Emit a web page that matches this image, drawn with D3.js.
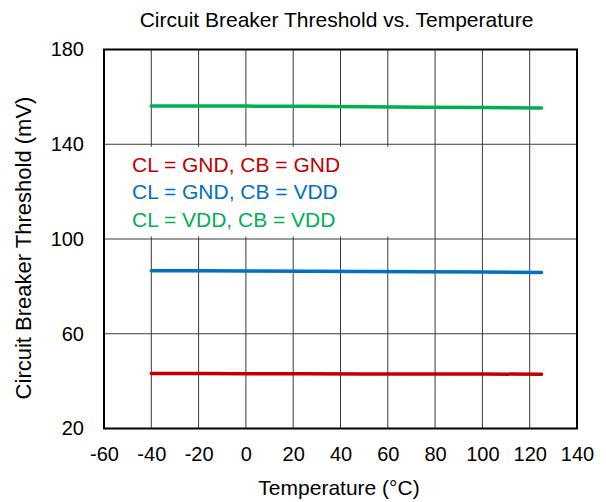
<!DOCTYPE html>
<html>
<head>
<meta charset="utf-8">
<script src="https://cdn.jsdelivr.net/npm/d3@7"></script>
<style>
  body { margin: 0; background: #fff; }
  text { font-family: "Liberation Sans", Arial, sans-serif; fill: #000; }
</style>
</head>
<body>
<div id="chart"></div>
<script>
// Data
var temps = [-40, -20, 0, 25, 50, 75, 100, 125];
var cbGndGnd = [43.2, 43.2, 43.1, 43.1, 43.0, 43.0, 43.0, 42.9];
var cbGndVdd = [86.6, 86.6, 86.5, 86.4, 86.3, 86.2, 86.1, 85.9];
var cbVddVdd = [156.2, 156.2, 156.1, 156.0, 155.8, 155.6, 155.5, 155.3];
var seriesNames = ["CL = GND, CB = GND", "CL = GND, CB = VDD", "CL = VDD, CB = VDD"];
var seriesColors = ["#C00000", "#0070C0", "#00B050"];
var xTicks = [-60, -40, -20, 0, 20, 40, 60, 80, 100, 120, 140];
var yTicks = [20, 60, 100, 140, 180];

var series = [cbGndGnd, cbGndVdd, cbVddVdd];

// Chart area
var margin = {top: 49.5, right: 29, bottom: 73.5, left: 104},
    width = 606 - margin.left - margin.right,
    height = 502 - margin.top - margin.bottom;

var svg = d3.select("#chart")
    .append("svg")
        .attr("width", 606)
        .attr("height", 502);

var g = svg.append("g")
    .attr("transform", "translate(" + margin.left + "," + margin.top + ")");

var x = d3.scaleLinear().domain([-60, 140]).range([0, width]);
var y = d3.scaleLinear().domain([20, 180]).range([height, 0]);

// Grid lines
g.selectAll(".vgrid")
    .data(xTicks.slice(1, -1))
    .enter()
    .append("line")
    .attr("x1", function(d) { return x(d); })
    .attr("x2", function(d) { return x(d); })
    .attr("y1", 0)
    .attr("y2", height)
    .style("stroke", "#3a3a3a")
    .style("stroke-width", 1);

g.selectAll(".hgrid")
    .data(yTicks.slice(1, -1))
    .enter()
    .append("line")
    .attr("x1", 0)
    .attr("x2", width)
    .attr("y1", function(d) { return y(d); })
    .attr("y2", function(d) { return y(d); })
    .style("stroke", "#3a3a3a")
    .style("stroke-width", 1);

// Legend box covers the grid
g.append("rect")
    .attr("x", 6)
    .attr("y", y(140) + 2.5)
    .attr("width", 300)
    .attr("height", y(100) - y(140) - 5)
    .style("fill", "#fff");

// Axes (labels only), plain hyphen for negatives
var plain = function(d) { return String(d); };

var xAxis = g.append("g")
    .attr("transform", "translate(0," + height + ")")
    .call(d3.axisBottom(x).tickValues(xTicks).tickFormat(plain).tickSize(0).tickPadding(18));
xAxis.select(".domain").remove();
xAxis.selectAll("text")
    .style("font-size", "20px")
    .style("font-family", "Liberation Sans, Arial, sans-serif")
    .attr("fill", "#000");

var yAxis = g.append("g")
    .call(d3.axisLeft(y).tickValues(yTicks).tickFormat(plain).tickSize(0).tickPadding(20));
yAxis.select(".domain").remove();
yAxis.selectAll("text")
    .style("font-size", "20px")
    .style("font-family", "Liberation Sans, Arial, sans-serif")
    .attr("fill", "#000");

// Lines
var line = d3.line()
    .x(function(d, i) { return x(temps[i]); })
    .y(function(d) { return y(d); });

g.selectAll(".series")
    .data(series)
    .enter()
    .append("path")
    .attr("d", line)
    .style("fill", "none")
    .style("stroke", function(d, i) { return seriesColors[i]; })
    .style("stroke-width", 3.5)
    .style("stroke-linecap", "round");

// Frame
g.append("rect")
    .attr("width", width)
    .attr("height", height)
    .style("fill", "none")
    .style("stroke", "#000")
    .style("stroke-width", 2);

// Legend text
g.selectAll(".legend")
    .data(seriesNames)
    .enter()
    .append("text")
    .attr("x", 28)
    .attr("y", function(d, i) { return 122 + i * 27.5; })
    .text(function(d) { return d; })
    .style("font-size", "21px")
    .style("fill", function(d, i) { return seriesColors[i]; });

// Titles
svg.append("text")
    .attr("x", 336.5)
    .attr("y", 27)
    .attr("text-anchor", "middle")
    .style("font-size", "21px")
    .text("Circuit Breaker Threshold vs. Temperature");

svg.append("text")
    .attr("x", 339)
    .attr("y", 495)
    .attr("text-anchor", "middle")
    .style("font-size", "21px")
    .text("Temperature (°C)");

svg.append("text")
    .attr("transform", "translate(31,248) rotate(-90)")
    .attr("text-anchor", "middle")
    .style("font-size", "22px")
    .text("Circuit Breaker Threshold (mV)");
</script>
</body>
</html>
